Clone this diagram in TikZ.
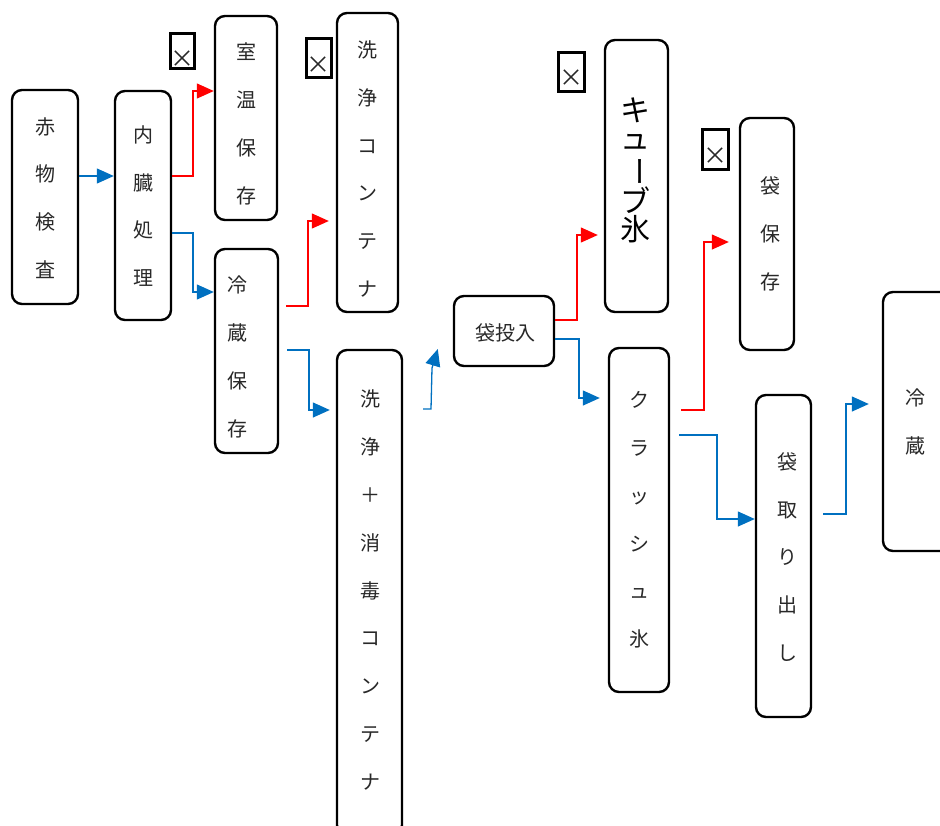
\documentclass[tikz,border=0pt]{standalone}
\usepackage{fontspec}
\setmainfont{Noto Sans CJK JP}
\usepackage{graphicx}
\usetikzlibrary{arrows.meta,calc}
\definecolor{flowblue}{RGB}{0,112,192}
\definecolor{inkgray}{RGB}{40,40,40}
\begin{document}
\begin{tikzpicture}[x=1pt,y=-1pt,
  stage/.style={draw=black, line width=2.4pt, rounded corners=10pt, inner sep=0pt},
  vtext/.style={align=center, font=\fontsize{20}{47.8}\selectfont, text=inkgray, inner sep=0pt},
  nomark/.style={draw=black, line width=3pt, inner sep=0pt},
  marktext/.style={font=\fontsize{24}{24}\selectfont, text=inkgray, inner sep=0pt},
  flow/.style={line width=1.3pt, -{Triangle[length=17pt,width=15pt]}},
  okflow/.style={flow, color=flowblue},
  ngflow/.style={flow, color=red}]
\useasboundingbox (0,0) rectangle (940,825);
\clip (0,0) rectangle (940,825);

% process stages
\node[stage, minimum width=66pt, minimum height=214pt] (s1) at (45,197) {};
\node[stage, minimum width=56pt, minimum height=229pt] (s2) at (143,205.5) {};
\node[stage, minimum width=62pt, minimum height=204pt] (s3) at (246,118) {};
\node[stage, minimum width=63pt, minimum height=204pt] (s4) at (246.5,351) {};
\node[stage, minimum width=61pt, minimum height=299pt] (s5) at (367.5,162.5) {};
\node[stage, minimum width=65pt, minimum height=485pt] (s6) at (369.5,592.5) {};
\node[stage, minimum width=100pt, minimum height=70pt] (s7) at (504,331) {};
\node[stage, minimum width=63pt, minimum height=272pt] (s8) at (636.5,176) {};
\node[stage, minimum width=54pt, minimum height=232pt] (s9) at (767,234) {};
\node[stage, minimum width=60pt, minimum height=344pt] (s10) at (639,520) {};
\node[stage, minimum width=55pt, minimum height=322pt] (s11) at (783.5,556) {};
\node[stage, minimum width=72pt, minimum height=259pt] (s12) at (919,421.5) {};

% stage labels
\node[vtext] (t1) at (45,198) {赤\\物\\検\\査};
\node[vtext] (t2) at (143,206) {内\\臓\\処\\理};
\node[vtext] (t3) at (246,124) {室\\温\\保\\存};
\node[vtext] (t4) at (237,357) {冷\\蔵\\保\\存};
\node[vtext] (t5) at (367,169) {洗\\浄\\コ\\ン\\テ\\ナ};
\node[vtext] (t6) at (370,590) {洗\\浄\\＋\\消\\毒\\コ\\ン\\テ\\ナ};
\node[inner sep=0pt, font=\fontsize{20}{24}\selectfont, text=inkgray] (t7) at (505,333) {袋投入};
\node[align=center, inner sep=0pt, font=\fontsize{30}{28}\selectfont, text=black] (t8) at (635,170.5)
  {キ\\ュ\\\rotatebox[origin=c]{-90}{ー}\\ブ\\氷};
\node[vtext] (t9) at (770,234) {袋\\保\\存};
\node[vtext] (t10) at (639,520) {ク\\ラ\\ッ\\シ\\ュ\\氷};
\node[vtext] (t11) at (787,557) {袋\\取\\り\\出\\し};
\node[vtext] (t12) at (915,422) {冷\\蔵};

% rejected-route marks
\node[nomark, minimum width=24pt, minimum height=35pt] (m1) at (182,50.5) {};
\node[marktext] (m1x) at (182,59) {×};
\node[nomark, minimum width=25pt, minimum height=39pt] (m2) at (318.5,57.5) {};
\node[marktext] (m2x) at (318.5,65) {×};
\node[nomark, minimum width=26pt, minimum height=39pt] (m3) at (571,71.5) {};
\node[marktext] (m3x) at (571,78) {×};
\node[nomark, minimum width=26pt, minimum height=40pt] (m4) at (715,149) {};
\node[marktext] (m4x) at (715,156) {×};

% connectors
\draw[okflow] (s1.east |- 0,176) -- (s2.west |- 0,176);
\draw[ngflow] (s2.east |- 0,176) -- (193,176) |- (s3.west |- 0,91);
\draw[okflow] (s2.east |- 0,233) -- (193,233) |- (s4.west |- 0,292);
\draw[ngflow] ($(s4.east |- 0,306)+(7,0)$) -- (308,306) |- ($(s5.west |- 0,221)+(-7,0)$);
\draw[okflow] ($(s4.east |- 0,350)+(8,0)$) -- (309,350) |- ($(s6.west |- 0,410)+(-6,0)$);
\draw[okflow] ($(s6.east |- 0,409)+(20,0)$) -- (431,409) -- (432,368) -- ($(s7.west)+(-15,18)$);
\draw[ngflow] (s7.east |- 0,320) -- (577,320) |- ($(s8.west |- 0,235)+(-6,0)$);
\draw[okflow] (s7.east |- 0,339) -- (579,339) |- ($(s10.west |- 0,398)+(-8,0)$);
\draw[ngflow] ($(s10.east |- 0,410)+(11,0)$) -- (704,410) |- ($(s9.west |- 0,242)+(-10,0)$);
\draw[okflow] ($(s10.east |- 0,435)+(9,0)$) -- (717,435) |- (s11.west |- 0,519);
\draw[okflow] ($(s11.east |- 0,514)+(11,0)$) -- (846,514) |- ($(s12.west |- 0,404)+(-13,0)$);
\end{tikzpicture}
\end{document}
